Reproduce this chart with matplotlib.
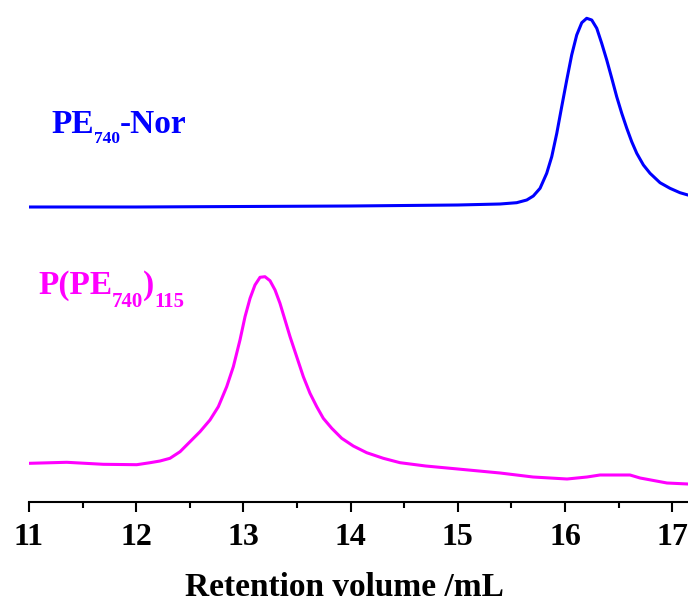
#import necessary libraries
import numpy as np
import matplotlib.pyplot as plt
from matplotlib.ticker import MultipleLocator

#data (retention volume in mL, signal in arbitrary units)
blue_x = [11.0, 12.0, 13.0, 14.0, 15.0, 15.394, 15.549, 15.643, 15.704, 15.767, 15.829,
          15.876, 15.923, 15.969, 16.016, 16.062, 16.109, 16.156, 16.202, 16.249, 16.296,
          16.342, 16.389, 16.436, 16.482, 16.529, 16.576, 16.622, 16.669, 16.731, 16.793,
          16.886, 16.979, 17.072, 17.146]
blue_y = [295, 295, 295.5, 296, 297, 298, 299.3, 302, 306, 313.7, 328.7,
          345.3, 368.7, 395.3, 422, 447, 467, 479.3, 483.7, 482, 473.7,
          458.7, 442, 423.7, 405.3, 388.7, 373.7, 360.3, 348.7, 337, 328.7,
          319.3, 313.7, 309.3, 307]

magenta_x = [11.009, 11.352, 11.693, 12.005, 12.129, 12.222, 12.315, 12.409, 12.502, 12.595,
             12.688, 12.766, 12.844, 12.906, 12.968, 13.015, 13.062, 13.108, 13.155, 13.201,
             13.248, 13.295, 13.341, 13.388, 13.435, 13.497, 13.559, 13.621, 13.684, 13.745,
             13.824, 13.917, 14.025, 14.15, 14.305, 14.461, 14.7, 15.0, 15.394, 15.701,
             16.019, 16.205, 16.326, 16.606, 16.7, 16.951, 17.147]
magenta_y = [38.7, 39.7, 37.7, 37.3, 39.3, 41, 43.7, 50.3, 60.3, 70.3,
             82, 95.3, 115.3, 135.3, 162, 185.3, 203.7, 217, 224.7, 225.3,
             221.3, 212, 198.7, 182, 165.3, 145.3, 125.3, 108.7, 95.3, 83.7,
             73.7, 63.7, 56, 49.3, 43.7, 39.3, 36, 33, 29, 25,
             23, 25, 27, 27, 24, 19, 18]

#curve labels as (text, is_subscript) pieces
blue_label = [('PE', False), ('740', True), ('-Nor', False)]
magenta_label = [('P(PE', False), ('740', True), (')', False), ('115', True)]

plt.rcParams['font.family'] = 'Liberation Serif'
plt.rcParams['font.weight'] = 'bold'

W, H = 688, 604
fig = plt.figure(figsize=(W / 100, H / 100), dpi=100)
ax = fig.add_axes([29 / W, 102 / H, 1 - 29 / W, 500 / H])

#curves
ax.plot(blue_x, blue_y, color='#0000ff', lw=2.2)
ax.plot(magenta_x, magenta_y, color='#ff00ff', lw=2.2)

#draw a label piece by piece so subscripts can be small and low
renderer = fig.canvas.get_renderer()
def draw_label(x_px, base_px, pieces, color, sub_size, sub_drop):
    for text, sub in pieces:
        size = sub_size if sub else 24
        y_px = base_px + (sub_drop if sub else 0)
        t = fig.text(x_px / W, 1 - y_px / H, text, color=color, fontsize=size,
                     fontweight='bold', va='baseline', ha='left')
        x_px = t.get_window_extent(renderer).x1

draw_label(51, 133, blue_label, '#0000ff', 12.5, 10)
draw_label(38, 294, magenta_label, '#ff00ff', 15, 13)

#axes styling: only the bottom spine
ax.set_xlim(11, 17.147)
ax.set_ylim(0, 500)
for side in ['left', 'right', 'top']:
    ax.spines[side].set_visible(False)
ax.spines['bottom'].set_linewidth(1.5)
ax.set_yticks([])
ax.xaxis.set_major_locator(MultipleLocator(1))
ax.xaxis.set_minor_locator(MultipleLocator(0.5))
ax.tick_params(axis='x', which='major', direction='out', length=7, width=1.5, labelsize=23, pad=8)
ax.tick_params(axis='x', which='minor', direction='out', length=4, width=1.5)
ax.set_xlabel('Retention volume /mL', fontsize=24, fontweight='bold')
ax.xaxis.set_label_coords((344 - 29) / (W - 29), -(596 - 502) / 500, transform=ax.transAxes)
ax.xaxis.label.set_va('baseline')

plt.savefig('out.png', dpi=100)
